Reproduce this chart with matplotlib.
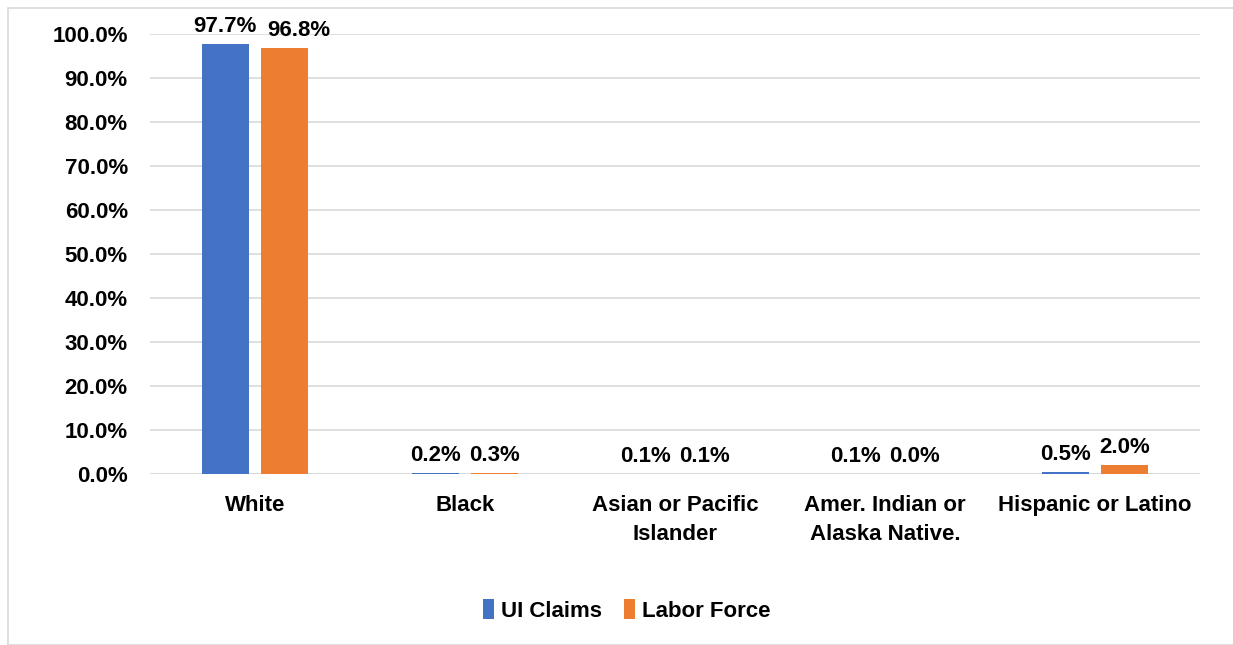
import matplotlib.pyplot as plt
import numpy as np
from matplotlib.patches import Rectangle
from matplotlib.ticker import FuncFormatter

categories = ["White", "Black", "Asian or Pacific\nIslander", "Amer. Indian or\nAlaska Native.", "Hispanic or Latino"]
ui_claims = [97.7, 0.2, 0.1, 0.1, 0.5]
labor_force = [96.8, 0.3, 0.1, 0.0, 2.0]

blue = "#4472C4"
orange = "#ED7D31"

plt.rcParams['font.family'] = ['Liberation Sans', 'DejaVu Sans']
plt.rcParams['font.weight'] = 'bold'
fs = 16

fig = plt.figure(figsize=(12.33, 6.45), dpi=100)
ax = fig.add_axes([150/1233, 1 - 474/645, 1050/1233, 440/645])

# chart border
fig.patches.append(Rectangle((8/1233, 0), 1.1, 1 - 8/645, transform=fig.transFigure,
                             fill=False, edgecolor="#D9D9D9", linewidth=1.2))

x = np.arange(len(categories))
w = 0.224
off = 0.1425
b1 = ax.bar(x - off, ui_claims, w, color=blue, label="UI Claims", zorder=3)
b2 = ax.bar(x + off, labor_force, w, color=orange, label="Labor Force", zorder=3)

for bars, vals, nudge in ((b1, ui_claims, 0), (b2, labor_force, 1)):
    for i, (bar, v) in enumerate(zip(bars, vals)):
        dx = 10 if (nudge and i == 0) else 0
        ax.annotate("{:.1f}%".format(v), (bar.get_x() + bar.get_width() / 2, v),
                    xytext=(dx, 5), textcoords="offset points", ha="center", va="bottom",
                    fontsize=fs, fontweight="bold")

ax.set_xlim(-0.5, len(categories) - 0.5)
ax.set_ylim(0, 100)
ax.set_yticks(np.arange(0, 101, 10))
ax.yaxis.set_major_formatter(FuncFormatter(lambda v, p: "{:.1f}%".format(v)))
ax.set_xticks(x)
ax.set_xticklabels(categories, linespacing=1.5)
ax.tick_params(axis="both", length=0, labelsize=fs)
ax.tick_params(axis="x", pad=15)
ax.tick_params(axis="y", pad=16)
ax.grid(axis="y", color="#D9D9D9", linewidth=1.2, zorder=0)
for s in ax.spines.values():
    s.set_visible(False)
ax.axhline(0, color="#D9D9D9", linewidth=1.2, zorder=2)

ax.legend(loc="center", bbox_to_anchor=(0.5 - 48/1050, -0.31), ncol=2, frameon=False,
          fontsize=fs, handlelength=0.5, handleheight=1.0, handletextpad=0.3, columnspacing=1.0)

fig.savefig("out.png", dpi=100)
